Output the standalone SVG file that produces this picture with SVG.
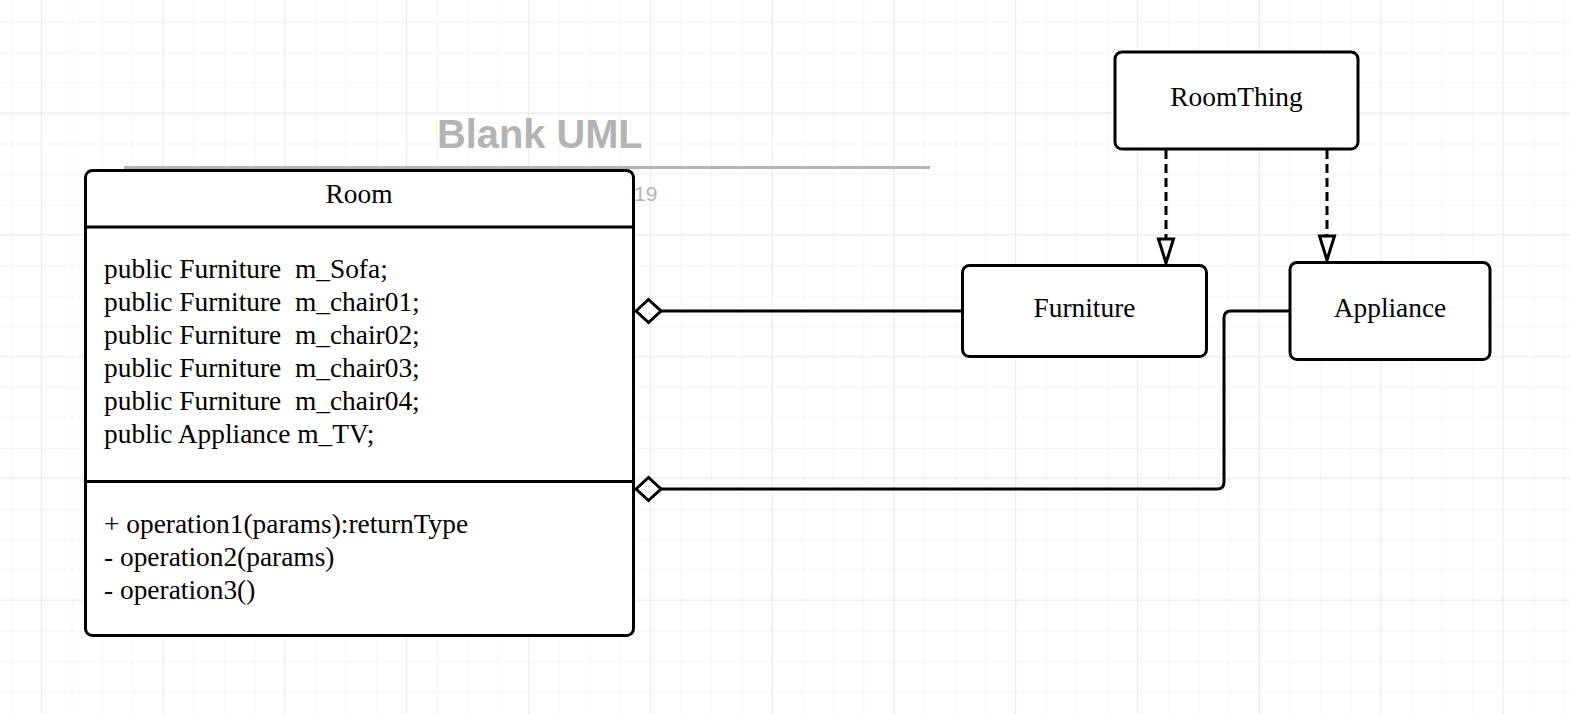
<svg xmlns="http://www.w3.org/2000/svg" width="1570" height="714" viewBox="0 0 1570 714">
<defs>
<pattern id="minor" x="10.7" y="21.7" width="30.45" height="30.45" patternUnits="userSpaceOnUse">
<path d="M0 0H30.45M0 0V30.45" fill="none" stroke="#ebebeb" stroke-width="1"/>
</pattern>
<pattern id="major" x="40.7" y="112.3" width="121.8" height="121.8" patternUnits="userSpaceOnUse">
<path d="M0 0H121.8M0 0V121.8" fill="none" stroke="#dddddd" stroke-width="1"/>
</pattern>
<marker id="hollowTri" viewBox="0 0 30 20" refX="27" refY="10" markerWidth="30" markerHeight="20" markerUnits="userSpaceOnUse" orient="auto">
<path d="M3 2.5L27 10L3 17.5Z" fill="#fff" stroke="#000" stroke-width="3" stroke-linejoin="miter"/>
</marker>
</defs>
<style>
.box{fill:#fff;stroke:#000;stroke-width:3}
.sep{stroke:#000;stroke-width:3}
.lbl{font-family:"Liberation Serif",serif;font-size:27.4px;fill:#000}
.edge{fill:none;stroke:#000;stroke-width:3}
.dash{fill:none;stroke:#000;stroke-width:3;stroke-dasharray:9 5}
.dia{fill:#fff;stroke:#000;stroke-width:3}
</style>
<rect width="1570" height="714" fill="#fff"/>
<rect width="1570" height="714" fill="url(#minor)"/>
<rect width="1570" height="714" fill="url(#major)"/>

<g id="title">
<text x="437" y="148" font-family="Liberation Sans, sans-serif" font-weight="bold" font-size="39.8" fill="#b3b3b3">Blank UML</text>
<line x1="124" y1="167.5" x2="930" y2="167.5" stroke="#b3b3b3" stroke-width="3"/>
<text x="634" y="201" font-family="Liberation Sans, sans-serif" font-size="21" fill="#b3b3b3">19</text>
</g>

<g id="connectors">
<path class="edge" d="M661 311H962"/>
<path class="dia" d="M636 311L648.5 299.5L661 311L648.5 322.5Z"/>
<path class="edge" d="M1290 311H1231Q1224 311 1224 318V482Q1224 489 1217 489H661"/>
<path class="dia" d="M636 489L648.5 477.5L661 489L648.5 500.5Z"/>
<path class="dash" d="M1166 150V263" marker-end="url(#hollowTri)"/>
<path class="dash" d="M1327 150V260" marker-end="url(#hollowTri)"/>
</g>

<g id="Room">
<rect class="box" x="85.5" y="170.5" width="548" height="465" rx="7"/>
<line class="sep" x1="85.5" y1="227" x2="633.5" y2="227"/>
<line class="sep" x1="85.5" y1="481.5" x2="633.5" y2="481.5"/>
<text class="lbl" x="359" y="203" text-anchor="middle">Room</text>
<text class="lbl" x="104" y="278" xml:space="preserve">public Furniture  m_Sofa;</text>
<text class="lbl" x="104" y="311" xml:space="preserve">public Furniture  m_chair01;</text>
<text class="lbl" x="104" y="344" xml:space="preserve">public Furniture  m_chair02;</text>
<text class="lbl" x="104" y="377" xml:space="preserve">public Furniture  m_chair03;</text>
<text class="lbl" x="104" y="410" xml:space="preserve">public Furniture  m_chair04;</text>
<text class="lbl" x="104" y="443">public Appliance m_TV;</text>
<text class="lbl" x="104" y="533">+ operation1(params):returnType</text>
<text class="lbl" x="104" y="566">- operation2(params)</text>
<text class="lbl" x="104" y="599">- operation3()</text>
</g>

<g id="RoomThing">
<rect class="box" x="1115" y="52" width="243" height="97" rx="7"/>
<text class="lbl" x="1236.5" y="106" text-anchor="middle">RoomThing</text>
</g>

<g id="Furniture">
<rect class="box" x="962.5" y="265.5" width="244" height="91" rx="7"/>
<text class="lbl" x="1084.5" y="317" text-anchor="middle">Furniture</text>
</g>

<g id="Appliance">
<rect class="box" x="1290" y="262.5" width="200" height="97" rx="7"/>
<text class="lbl" x="1390" y="317" text-anchor="middle">Appliance</text>
</g>
</svg>
